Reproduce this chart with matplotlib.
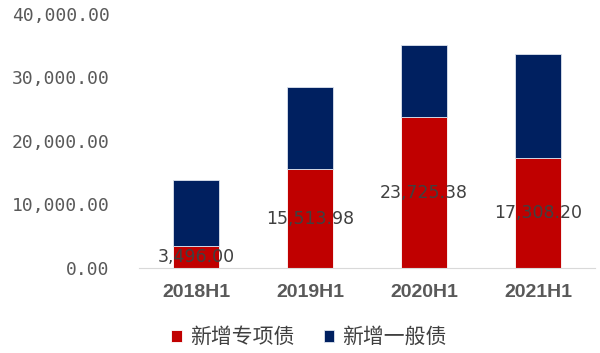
import matplotlib
matplotlib.use("Agg")
import matplotlib.pyplot as plt
import numpy as np

categories = ["2018H1", "2019H1", "2020H1", "2021H1"]
special_bonds = [3496.00, 15513.98, 23725.38, 17308.20]   # 新增专项债
general_bonds = [10364, 12943, 11346, 16346]             # 新增一般债
yticks = [0, 10000, 20000, 30000, 40000]

plt.rcParams['font.family'] = ['Noto Sans CJK SC', 'DejaVu Sans']

fig = plt.figure(figsize=(6, 3.53), dpi=100)
ax = fig.add_axes([139/600, 1-268/353, (595-139)/600, (268-14)/353])

x = np.arange(len(categories))
red = "#C00000"
navy = "#002060"
b1 = ax.bar(x, special_bonds, width=0.4, color=red, edgecolor="white", linewidth=0.6, label="新增专项债")
b2 = ax.bar(x, general_bonds, width=0.4, bottom=special_bonds, color=navy, edgecolor="#dde3ee", linewidth=0.6, label="新增一般债")

for xi, v in zip(x, special_bonds):
    ax.text(xi, v/2, f"{v:,.2f}", ha="center", va="center", fontsize=12.5,
            color="#404040", family="DejaVu Sans")

ax.set_xlim(-0.5, len(categories)-0.5)
ax.set_ylim(0, 40000)
ax.set_yticks(yticks)
ax.set_yticklabels([f"{t:,.2f}" for t in yticks], family="DejaVu Sans Mono", fontsize=13, color="#595959")
ax.set_xticks(x)
ax.set_xticklabels(categories, fontsize=14, fontweight="bold", color="#595959",
                   family=["Liberation Sans", "DejaVu Sans"])
ax.tick_params(axis="both", length=0)
ax.tick_params(axis="y", pad=21)
ax.tick_params(axis="x", pad=11.5)
for s in ["top", "right", "left"]:
    ax.spines[s].set_visible(False)
ax.spines["bottom"].set_color("#d9d9d9")

leg = fig.legend(handles=[b1, b2], loc="center", bbox_to_anchor=(0.515, 1-337/353), ncol=2,
                 frameon=False, fontsize=15, handlelength=0.5, handleheight=0.5,
                 handletextpad=0.4, columnspacing=1.4, labelcolor="#404040")

fig.savefig("out.png", dpi=100)
